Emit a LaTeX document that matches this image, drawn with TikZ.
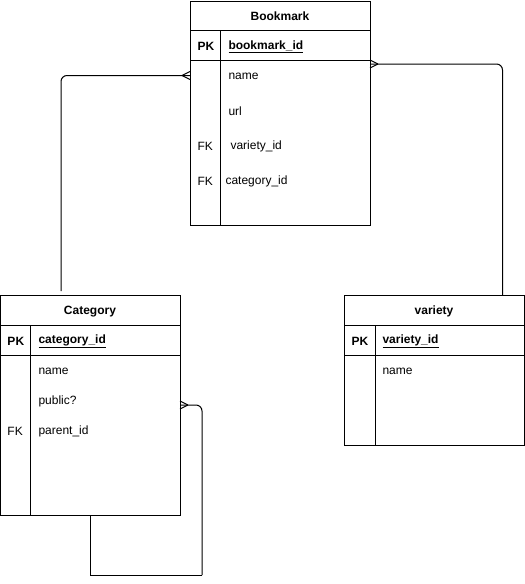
\documentclass[tikz,border=0pt]{standalone}
\usepackage{fontspec}
\setmainfont{Liberation Sans}
\begin{document}
\begin{tikzpicture}[x=1pt,y=-1pt,line width=1pt,
  font=\fontsize{12}{14}\selectfont,
  tbl/.style={draw,minimum width=180pt,anchor=north west,inner sep=0,line width=1pt},
  lbl/.style={anchor=west,inner sep=0,yshift=-1pt},
  ttl/.style={inner sep=0,yshift=-1pt,font=\fontsize{12}{14}\selectfont\bfseries},
  conn/.style={draw,line width=1pt,rounded corners=6pt},
  foot/.style={line width=1pt}]
\useasboundingbox (0,0) rectangle (525,584);
% Bookmark
\node[tbl,minimum height=224pt] (bm) at (190,1) {};
\draw (190,30) -- (370,30);
\draw (190,60) -- (370,60);
\draw (220,30) -- (220,225);
\node[ttl] (bmt) at (280,15.5) {Bookmark};
\node[lbl,font=\fontsize{12}{14}\selectfont\bfseries] (bmpk) at (197,45.5) {PK};
\node[lbl,font=\fontsize{12}{14}\selectfont\bfseries] (bmid) at (228,45.5) {\underline{bookmark\_id}};
\node[lbl] (bmn) at (228,75.5) {name};
\node[lbl] (bmu) at (228,110.5) {url};
\node[lbl] (bmfk1) at (197,145.5) {FK};
\node[lbl] (bmv) at (230,145.5) {variety\_id};
\node[lbl] (bmfk2) at (197,180.5) {FK};
\node[lbl] (bmc) at (225,180.5) {category\_id};
% Category
\node[tbl,minimum height=220pt] (cat) at (0,295) {};
\draw (0,325) -- (180,325);
\draw (0,355) -- (180,355);
\draw (30,325) -- (30,515);
\node[ttl] (catt) at (90,310.5) {Category};
\node[lbl,font=\fontsize{12}{14}\selectfont\bfseries] (catpk) at (7,340.5) {PK};
\node[lbl,font=\fontsize{12}{14}\selectfont\bfseries] (catid) at (38,340.5) {\underline{category\_id}};
\node[lbl] (catn) at (38,370.5) {name};
\node[lbl] (catp) at (38,400.5) {public?};
\node[lbl] (catfk) at (7,430.5) {FK};
\node[lbl] (catpa) at (38,430.5) {parent\_id};
% variety
\node[tbl,minimum height=150pt] (var) at (344,295) {};
\draw (344,325) -- (524,325);
\draw (344,355) -- (524,355);
\draw (375,325) -- (375,445);
\node[ttl] (vart) at (434,310.5) {variety};
\node[lbl,font=\fontsize{12}{14}\selectfont\bfseries] (varpk) at (351,340.5) {PK};
\node[lbl,font=\fontsize{12}{14}\selectfont\bfseries] (varid) at (382,340.5) {\underline{variety\_id}};
\node[lbl] (varn) at (382,370.5) {name};
% connector endpoints
\coordinate (c1s) at (61,291);
\coordinate (c1e) at (190,75.5);
\coordinate (c2s) at (502.5,295);
\coordinate (c2e) at (370,64);
\coordinate (c3s) at (90.5,515);
\coordinate (c3a) at (90.5,575);
\coordinate (c3b) at (202,575);
\coordinate (c3e) at (180,405);
% connectors
\draw[conn] (c1s) |- (c1e);
\draw[conn] (c2s) |- (c2e);
\draw (c3s) -- (c3a) -- (c3b);
\draw[conn] (c3b) |- (c3e);
% crow's feet
\draw[foot] ([xshift=-8pt]c1e) -- ([yshift=-4pt]c1e);
\draw[foot] ([xshift=-8pt]c1e) -- ([yshift=4pt]c1e);
\draw[foot] ([xshift=8pt]c2e) -- ([yshift=-4pt]c2e);
\draw[foot] ([xshift=8pt]c2e) -- ([yshift=4pt]c2e);
\draw[foot] ([xshift=8pt]c3e) -- ([yshift=-4pt]c3e);
\draw[foot] ([xshift=8pt]c3e) -- ([yshift=4pt]c3e);
\end{tikzpicture}
\end{document}
